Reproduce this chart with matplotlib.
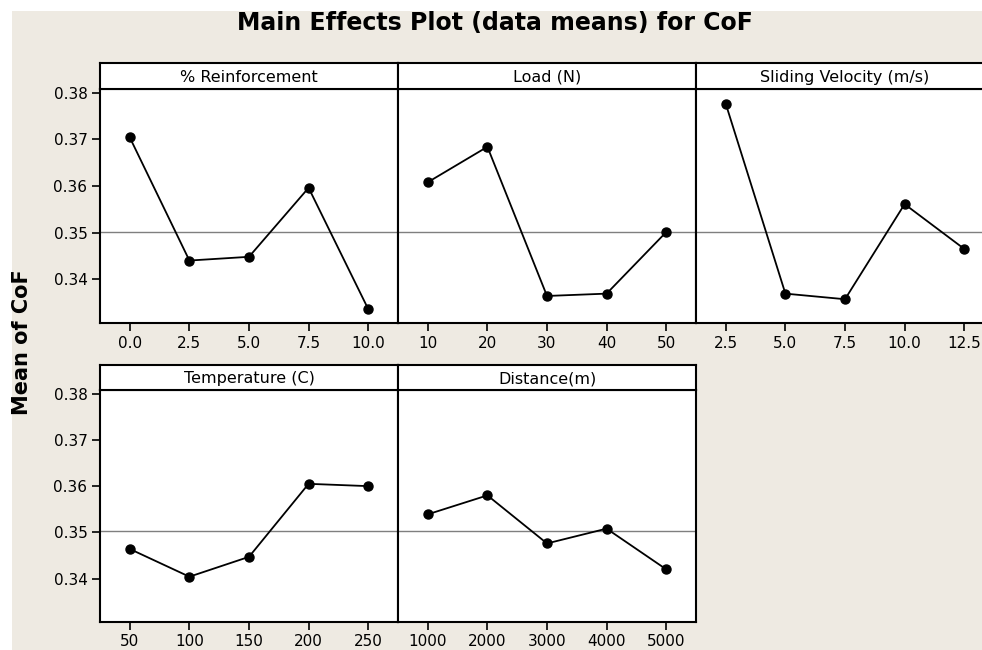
import matplotlib
matplotlib.use("Agg")
import matplotlib.pyplot as plt
from matplotlib.patches import Rectangle

# %% Data (Minitab main effects plot)
reinforcement_levels = ["0.0", "2.5", "5.0", "7.5", "10.0"]
reinforcement_means = [0.3704, 0.3440, 0.3448, 0.3596, 0.3336]

load_levels = ["10", "20", "30", "40", "50"]
load_means = [0.3608, 0.3684, 0.3364, 0.3369, 0.3501]

velocity_levels = ["2.5", "5.0", "7.5", "10.0", "12.5"]
velocity_means = [0.3776, 0.3369, 0.3357, 0.3561, 0.3465]

temperature_levels = ["50", "100", "150", "200", "250"]
temperature_means = [0.3464, 0.3404, 0.3447, 0.3605, 0.3600]

distance_levels = ["1000", "2000", "3000", "4000", "5000"]
distance_means = [0.3539, 0.3580, 0.3476, 0.3508, 0.3420]

factor_names = ["% Reinforcement", "Load (N)", "Sliding Velocity (m/s)",
                "Temperature (C)", "Distance(m)"]
grand_mean = 0.3502
y_ticks = [0.34, 0.35, 0.36, 0.37, 0.38]

# %% Layout (pixels of a 982x650 figure)
W, H = 982, 650
bg = "#eeeae2"

fig = plt.figure(figsize=(W / 100, H / 100), dpi=100)
fig.patch.set_facecolor("white")
fig.add_artist(Rectangle((12 / W, 0), 1, 1 - 11 / H, transform=fig.transFigure,
                         facecolor=bg, edgecolor="none", zorder=-10))

panels = [
    (0, 0, reinforcement_levels, reinforcement_means),
    (0, 1, load_levels, load_means),
    (0, 2, velocity_levels, velocity_means),
    (1, 0, temperature_levels, temperature_means),
    (1, 1, distance_levels, distance_means),
]
row_box = {0: (63, 89, 323), 1: (365, 390, 622)}  # header top, plot top, plot bottom
col_left = [100, 398, 696]
panel_w = 298

for (row, col, levels, means), name in zip(panels, factor_names):
    htop, ptop, pbot = row_box[row]
    x0 = col_left[col]
    ax = fig.add_axes([x0 / W, 1 - pbot / H, panel_w / W, (pbot - ptop) / H])
    hax = fig.add_axes([x0 / W, 1 - ptop / H, panel_w / W, (ptop - htop) / H])

    xs = list(range(len(levels)))
    ax.axhline(grand_mean, color="#7f7f7f", lw=1.0, zorder=1)
    ax.plot(xs, means, color="black", lw=1.3, marker="o", markersize=6.5, zorder=3)
    ax.set_xlim(-0.5, len(levels) - 0.5)
    ax.set_ylim(0.3306, 0.3808)
    ax.set_xticks(xs)
    ax.set_xticklabels(levels)
    ax.set_yticks(y_ticks)
    if col == 0:
        ax.set_yticklabels([f"{v:.2f}" for v in y_ticks])
        ax.tick_params(axis="y", length=6, width=1.2, labelsize=11, pad=3)
    else:
        ax.tick_params(axis="y", length=0, labelleft=False)
    ax.tick_params(axis="x", length=6, width=1.2, labelsize=11, pad=3)
    for s in ax.spines.values():
        s.set_linewidth(1.5)
    ax.set_facecolor("white")

    hax.set_xticks([])
    hax.set_yticks([])
    hax.set_facecolor("white")
    for s in hax.spines.values():
        s.set_linewidth(1.5)
    hax.text(0.5, 0.45, name, ha="center", va="center", fontsize=11.5,
             transform=hax.transAxes)

fig.text(495 / W, 1 - 23 / H, "Main Effects Plot (data means) for CoF",
         ha="center", va="center", fontsize=17, fontweight="bold")
fig.text(22 / W, 1 - 342 / H, "Mean of CoF", rotation=90, ha="center",
         va="center", fontsize=15, fontweight="bold")

fig.savefig("out.png", dpi=100, facecolor=fig.get_facecolor())
